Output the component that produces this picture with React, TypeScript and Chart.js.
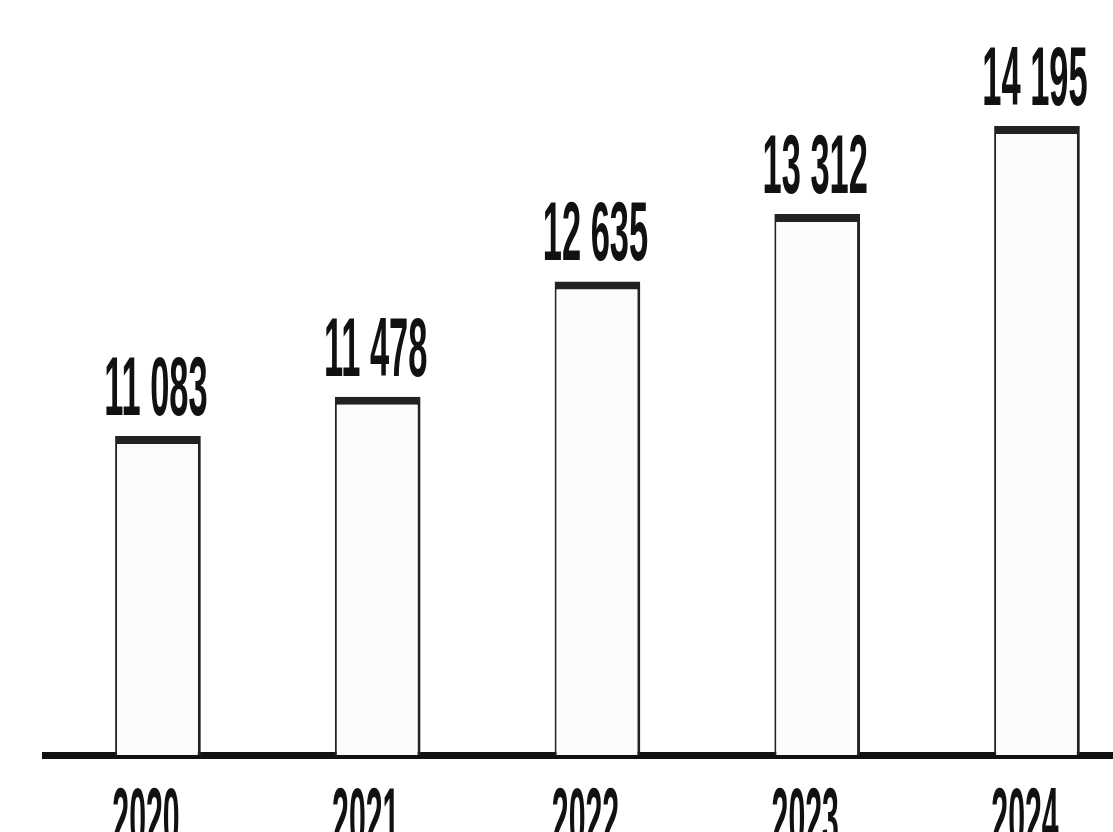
import React, { useEffect, useRef } from "react";
import { Chart, registerables } from "chart.js";

Chart.register(...registerables);

const categories: string[] = ["2020", "2021", "2022", "2023", "2024"];
const values: number[] = [11083, 11478, 12635, 13312, 14195];
const yMin = 7880;
const yMax = 15410;

const fmt = (v: number) => v.toString().replace(/\B(?=(\d{3})+(?!\d))/g, " ");

const labelPlugin = {
  id: "customLabels",
  afterDatasetsDraw(chart: any) {
    const ctx = chart.ctx as CanvasRenderingContext2D;
    const meta = chart.getDatasetMeta(0);
    const xScale = chart.scales.x;
    ctx.save();
    ctx.fillStyle = "#111";
    ctx.textAlign = "center";
    ctx.textBaseline = "alphabetic";
    ctx.font = 'bold 84px "Liberation Sans", Arial, sans-serif';
    meta.data.forEach((bar: any, i: number) => {
      ctx.save();
      ctx.translate(bar.x - 2, bar.y - 21);
      ctx.scale(0.41, 1);
      ctx.fillText(fmt(values[i]), 0, 0);
      ctx.restore();
    });
    categories.forEach((c, i) => {
      const x = xScale.getPixelForValue(i);
      ctx.save();
      ctx.translate(x - 12, 846);
      ctx.scale(0.36, 1);
      ctx.fillText(c, 0, 0);
      ctx.restore();
    });
    ctx.restore();
  },
};

export default function App() {
  const ref = useRef<HTMLCanvasElement | null>(null);
  useEffect(() => {
    if (!ref.current) return;
    const chart = new Chart(ref.current, {
      type: "bar",
      data: {
        datasets: [
          {
            data: values.map((v, i) => ({ x: i, y: v })),
            backgroundColor: "#fbfbfb",
            borderColor: "#222",
            borderWidth: { top: 8, left: 2, right: 3, bottom: 0 },
            borderSkipped: false,
            barPercentage: 0.39,
            categoryPercentage: 1,
          },
        ],
      },
      options: {
        animation: false,
        responsive: true,
        maintainAspectRatio: false,
        layout: { padding: { top: 5, bottom: 77, left: 45, right: 0 } },
        plugins: { legend: { display: false }, tooltip: { enabled: false } },
        scales: {
          x: {
            type: "linear",
            min: -0.514,
            max: 4.346,
            offset: false,
            bounds: "data",
            z: 1,
            afterBuildTicks: (scale: any) => {
              scale.ticks = categories.map((_, i) => ({ value: i }));
            },
            grid: { display: false, drawTicks: false, offset: false },
            ticks: { display: false },
            border: { display: true, color: "#111", width: 7 },
          },
          y: {
            display: false,
            min: yMin,
            max: yMax,
          },
        },
      },
      plugins: [labelPlugin],
    });
    return () => chart.destroy();
  }, []);
  return (
    <div style={{ position: "absolute", left: 0, top: 0, width: 1113, height: 832, background: "#fff" }}>
      <canvas ref={ref} />
    </div>
  );
}
